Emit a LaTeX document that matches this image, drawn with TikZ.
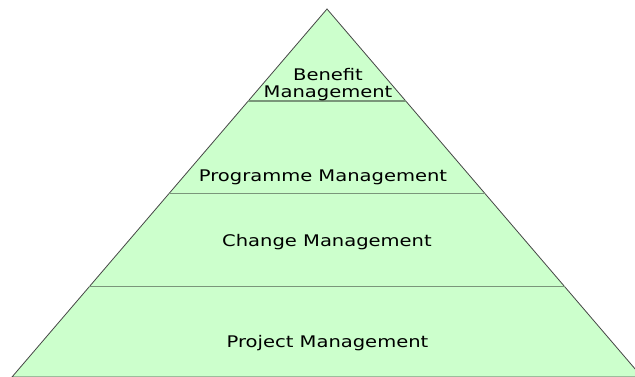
\documentclass[tikz,border=0pt]{standalone}
\usepackage{fontspec}
\setmainfont{DejaVu Sans}[FakeStretch=1.22]
\usepackage{xcolor}
\usepackage{tikz}
\usetikzlibrary{positioning, calc}
\definecolor{tierfill}{RGB}{204,255,204}
\definecolor{tierline}{RGB}{122,150,122}
\definecolor{edgeline}{RGB}{70,70,70}
\tikzstyle{tier} = [text centered, anchor=base, font=\fontsize{16}{18}\selectfont, inner sep=0pt]
\tikzstyle{divider} = [draw=tierline, line width=1.5pt]
\tikzstyle{edge} = [draw=edgeline, line width=0.8pt, fill=tierfill, line join=miter]

\begin{document}
\begin{tikzpicture}[x=1pt, y=1pt]
        \useasboundingbox (0,0) rectangle (635,377);
        \begin{scope}
        \clip (0,0) rectangle (635,377);
        \coordinate (apex) at (327,368);
        \coordinate (left) at (12,0);
        \coordinate (right) at (642,0);
        \draw [edge] (apex) -- (left) -- (right) -- cycle;

        % tier boundaries
        \foreach \t in {0.25, 0.5014, 0.7546}
            \draw [divider] ($(apex)!\t!(left)$) -- ($(apex)!\t!(right)$);
        \end{scope}

        \node (benefit) [tier] at (328,296) {Benefit};
        \node (benefit2) [tier] at (328,279.5) {Management};
        \node (programme) [tier] at (323,195.3) {Programme Management};
        \node (change) [tier] at (327,130.3) {Change Management};
        \node (project) [tier] at (327.5,29.3) {Project Management};
    \end{tikzpicture}
\end{document}
